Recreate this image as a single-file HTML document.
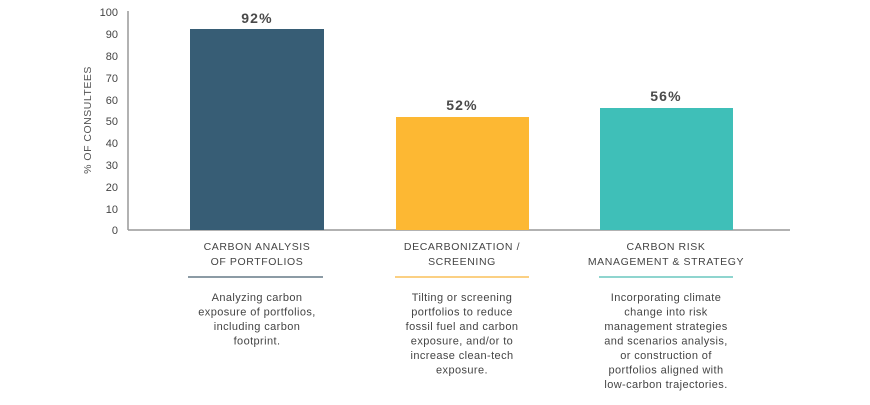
<!DOCTYPE html>
<html><head><meta charset="utf-8"><style>
body{margin:0;background:#fff;width:870px;height:400px;overflow:hidden;font-family:"Liberation Sans",sans-serif;}
</style></head><body>
<svg width="870" height="400" xmlns="http://www.w3.org/2000/svg" font-family="Liberation Sans, sans-serif">
<line x1="128" y1="11" x2="128" y2="230" stroke="#999" stroke-width="1.5"/>
<line x1="128" y1="230" x2="790" y2="230" stroke="#999" stroke-width="1.5"/>
<g font-size="11" fill="#444" text-anchor="end">
<text x="118" y="16">100</text><text x="118" y="38">90</text><text x="118" y="60">80</text>
<text x="118" y="82">70</text><text x="118" y="104">60</text><text x="118" y="125">50</text>
<text x="118" y="147">40</text><text x="118" y="169">30</text><text x="118" y="191">20</text>
<text x="118" y="213">10</text><text x="118" y="234">0</text>
</g>
<text transform="translate(91,120) rotate(-90)" font-size="10.5" fill="#555" text-anchor="middle" letter-spacing="0.5">% OF CONSULTEES</text>
<rect x="190" y="29" width="134" height="201" fill="#375d75"/>
<rect x="396" y="117" width="133" height="113" fill="#fdb833"/>
<rect x="600" y="108" width="133" height="122" fill="#3fbfb8"/>
<g font-size="14" font-weight="bold" fill="#4a4a4a" text-anchor="middle" letter-spacing="1.2">
<text x="257" y="23">92%</text><text x="462" y="110">52%</text><text x="666" y="101">56%</text>
</g>
<g font-size="10.5" fill="#444" text-anchor="middle" letter-spacing="0.6">
<text x="257" y="250">CARBON ANALYSIS</text><text x="257" y="265">OF PORTFOLIOS</text>
<text x="462" y="250">DECARBONIZATION /</text><text x="462" y="265">SCREENING</text>
<text x="666" y="250">CARBON RISK</text><text x="666" y="265">MANAGEMENT &amp; STRATEGY</text>
</g>
<rect x="188" y="276" width="135" height="2" fill="#8c9ba5"/>
<rect x="395" y="276" width="134" height="2" fill="#fbd083"/>
<rect x="599" y="276" width="134" height="2" fill="#8fd5cf"/>
<g font-size="11" fill="#444" text-anchor="middle" letter-spacing="0.4">
<text x="257" y="301">Analyzing carbon</text><text x="257" y="315.5">exposure of portfolios,</text>
<text x="257" y="330">including carbon</text><text x="257" y="344.5">footprint.</text>
<text x="462" y="301">Tilting or screening</text><text x="462" y="315.5">portfolios to reduce</text>
<text x="462" y="330">fossil fuel and carbon</text><text x="462" y="344.5">exposure, and/or to</text>
<text x="462" y="359">increase clean-tech</text><text x="462" y="373.5">exposure.</text>
<text x="666" y="301">Incorporating climate</text><text x="666" y="315.5">change into risk</text>
<text x="666" y="330">management strategies</text><text x="666" y="344.5">and scenarios analysis,</text>
<text x="666" y="359">or construction of</text><text x="666" y="373.5">portfolios aligned with</text>
<text x="666" y="388">low-carbon trajectories.</text>
</g>
</svg>
</body></html>
